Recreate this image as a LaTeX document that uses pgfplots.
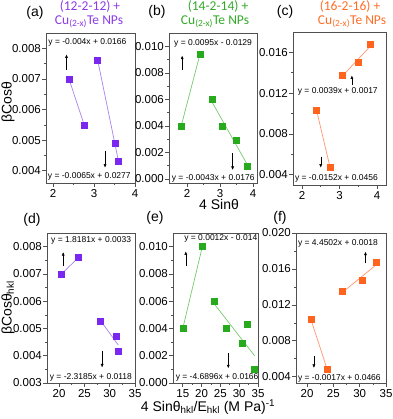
\documentclass[border=0pt]{standalone}
\usepackage{fontspec}
\setmainfont{Liberation Sans}
\newfontfamily\titlefont{Carlito}
\usepackage{pgfplots}
\pgfplotsset{compat=1.18}
\usetikzlibrary{arrows.meta}

\definecolor{cPur}{RGB}{122,40,240}
\definecolor{cPurT}{RGB}{140,60,230}
\definecolor{cPurL}{RGB}{170,130,235}
\definecolor{cGrn}{RGB}{40,170,30}
\definecolor{cGrnT}{RGB}{50,170,40}
\definecolor{cGrnL}{RGB}{120,200,110}
\definecolor{cOrg}{RGB}{255,100,30}
\definecolor{cOrgT}{RGB}{255,110,40}
\definecolor{cOrgL}{RGB}{255,150,110}
\definecolor{cFrame}{RGB}{80,80,80}

\pgfplotsset{
  panel/.style={scale only axis, anchor=south west, clip=false,
    axis line style={cFrame, line width=0.8pt},
    tick style={cFrame, line width=0.6pt},
    tick align=outside, xtick pos=left, ytick pos=left,
    major tick length=4pt, minor tick length=2.2pt,
    minor x tick num=1, minor y tick num=1,
    tick label style={font=\fontsize{11.5}{12}\selectfont},
    /pgf/number format/assume math mode=true,
    scaled y ticks=false,
    yticklabel style={/pgf/number format/fixed, /pgf/number format/fixed zerofill,
      /pgf/number format/precision=3, inner sep=1pt},
    xticklabel style={inner sep=2pt}},
  pts/.style={only marks, mark=square*, mark size=3pt, mark options={draw=#1, fill=#1}},
  fitl/.style={line width=0.7pt, #1, no marks},
}
\tikzset{eq/.style={font=\fontsize{8.5}{9}\selectfont, anchor=west, inner sep=0pt},
  arr/.style={-{Latex[length=3.5pt,width=3pt]}, line width=0.5pt, black},
  ttl/.style={font=\titlefont\fontsize{13.5}{15}\selectfont}}

\begin{document}
\begin{tikzpicture}[x=1pt,y=1pt]
\useasboundingbox (0,0) rectangle (392,419);

% (a)
\begin{axis}[panel, at={(46pt,236pt)}, width=89pt, height=150pt,
  xmin=1.83, xmax=4, ymin=0.0036, ymax=0.0085,
  xtick={2,3,4}, ytick={0.004,0.005,0.006,0.007,0.008}]
\addplot[fitl=cPurL] coordinates {(2.39,0.0070) (2.76,0.0055)};
\addplot[fitl=cPurL] coordinates {(3.08,0.00768) (3.59,0.00436)};
\addplot[pts=cPur] coordinates {(2.39,0.0070) (2.76,0.0055)};
\addplot[pts=cPur] coordinates {(3.08,0.0076) (3.51,0.0049) (3.59,0.0043)};
\node[eq] at (rel axis cs:0.025,0.94) {y = -0.004x + 0.0166};
\node[eq] at (rel axis cs:0.02,0.045) {y = -0.0065x + 0.0277};
\draw[arr] (axis cs:2.33,0.0073) -- (axis cs:2.33,0.0078);
\draw[arr] (axis cs:3.27,0.00466) -- (axis cs:3.27,0.0041);
\end{axis}

% (b)
\begin{axis}[panel, at={(169pt,236pt)}, width=88pt, height=150pt,
  xmin=1.45, xmax=4.12, ymin=-0.0003, ymax=0.011,
  xtick={2,3,4}, ytick={0,0.002,0.004,0.006,0.008,0.010}]
\addplot[fitl=cGrnL] coordinates {(1.82,0.0040) (2.39,0.0094)};
\addplot[fitl=cGrnL] coordinates {(2.75,0.00582) (3.82,0.00111)};
\addplot[pts=cGrn] coordinates {(1.82,0.0040) (2.39,0.0094)};
\addplot[pts=cGrn] coordinates {(2.75,0.0060) (3.07,0.0040) (3.49,0.0029) (3.82,0.0010)};
\node[eq] at (rel axis cs:0.057,0.933) {y = 0.0095x - 0.0129};
\node[eq] at (rel axis cs:0.03,0.033) {y = -0.0043x + 0.0176};
\draw[arr] (axis cs:1.85,0.0082) -- (axis cs:1.85,0.0093);
\draw[arr] (axis cs:3.38,0.00195) -- (axis cs:3.38,0.00068);
\end{axis}

% (c)
\begin{axis}[panel, at={(293pt,234pt)}, width=93pt, height=153pt,
  xmin=1.76, xmax=4.24, ymin=0.003, ymax=0.018,
  xtick={2,3,4}, ytick={0.004,0.008,0.012,0.016}]
\addplot[fitl=cOrgL] coordinates {(2.39,0.0103) (2.75,0.0047)};
\addplot[fitl=cOrgL] coordinates {(3.08,0.0137) (3.83,0.01664)};
\addplot[pts=cOrg] coordinates {(2.39,0.0103) (2.75,0.0047)};
\addplot[pts=cOrg] coordinates {(3.08,0.0138) (3.51,0.0150) (3.83,0.0168)};
\node[eq] at (rel axis cs:0.05,0.61) {y = 0.0039x + 0.0017};
\node[eq] at (rel axis cs:0.02,0.046) {y = -0.0152x + 0.0456};
\draw[arr] (axis cs:3.33,0.01276) -- (axis cs:3.33,0.01374);
\draw[arr] (axis cs:2.5,0.00577) -- (axis cs:2.5,0.0047);
\end{axis}

% (d)
\begin{axis}[panel, at={(47pt,36pt)}, width=88pt, height=150pt,
  xmin=17.6, xmax=35, ymin=0.003, ymax=0.0085,
  xtick={20,25,30,35}, ytick={0.003,0.004,0.005,0.006,0.007,0.008}]
\addplot[fitl=cPurL] coordinates {(20.5,0.0070) (23.8,0.0076)};
\addplot[fitl=cPurL] coordinates {(28.1,0.00531) (31.7,0.00439)};
\addplot[pts=cPur] coordinates {(20.5,0.0070) (23.8,0.0076)};
\addplot[pts=cPur] coordinates {(28.1,0.00528) (31.3,0.00473) (31.7,0.00418)};
\node[eq] at (rel axis cs:0.045,0.953) {y = 1.8181x + 0.0033};
\node[eq] at (rel axis cs:0.03,0.04) {y = -2.3185x + 0.0118};
\draw[arr] (axis cs:20.8,0.0073) -- (axis cs:20.8,0.0078);
\draw[arr] (axis cs:28.5,0.00419) -- (axis cs:28.5,0.00357);
\end{axis}

% (e)
\begin{axis}[panel, at={(173pt,36pt)}, width=85pt, height=150pt,
  xmin=12.4, xmax=35, ymin=0, ymax=0.011,
  xtick={15,20,25,30,35}, ytick={0,0.002,0.004,0.006,0.008,0.010}]
\addplot[fitl=cGrnL] coordinates {(15,0.0040) (20.2,0.0100)};
\addplot[fitl=cGrnL] coordinates {(22.8,0.0060) (34.1,0.0020)};
\addplot[pts=cGrn] coordinates {(15,0.0040) (20.2,0.0100)};
\addplot[pts=cGrn] coordinates {(23.4,0.0060) (26.5,0.0040) (30.8,0.0029) (32.2,0.0043) (33.9,0.0010)};
\node[eq] at (rel axis cs:0.13,0.967) {y = 0.0012x - 0.014};
\node[eq] at (rel axis cs:0.03,0.035) {y = -4.6896x + 0.0166};
\draw[arr] (axis cs:15.8,0.00855) -- (axis cs:15.8,0.00965);
\draw[arr] (axis cs:27.1,0.00218) -- (axis cs:27.1,0.00108);
\end{axis}

% (f)
\begin{axis}[panel, at={(296pt,36pt)}, width=90pt, height=150pt,
  xmin=17.9, xmax=35, ymin=0.0033, ymax=0.020,
  xtick={20,25,30,35}, ytick={0.004,0.008,0.012,0.016,0.020}]
\addplot[fitl=cOrgL] coordinates {(20.7,0.01043) (23.8,0.00486)};
\addplot[fitl=cOrgL] coordinates {(26.7,0.01338) (33.1,0.01644)};
\addplot[pts=cOrg] coordinates {(20.7,0.01043) (23.8,0.00486)};
\addplot[pts=cOrg] coordinates {(26.7,0.01357) (30.4,0.0147) (33.1,0.0167)};
\node[eq] at (rel axis cs:0.02,0.933) {y = 4.4502x + 0.0018};
\node[eq] at (rel axis cs:0.02,0.033) {y = -0.0017x + 0.0466};
\draw[arr] (axis cs:31.1,0.01663) -- (axis cs:31.1,0.01792);
\draw[arr] (axis cs:21.3,0.00626) -- (axis cs:21.3,0.00497);
\end{axis}

% titles and labels
\node[font=\fontsize{14}{16}\selectfont] at (35,406) {(a)};
\node[ttl, text=cPurT] at (90,412) {(12-2-12) +};
\node[ttl, text=cPurT] at (89,397) {Cu\textsubscript{(2-x)}Te NPs};
\node[font=\fontsize{14}{16}\selectfont] at (157,407) {(b)};
\node[ttl, text=cGrnT] at (218,412) {(14-2-14) +};
\node[ttl, text=cGrnT] at (215,397) {Cu\textsubscript{(2-x)}Te NPs};
\node[font=\fontsize{14}{16}\selectfont] at (285,407) {(c)};
\node[ttl, text=cOrgT] at (350,412) {(16-2-16) +};
\node[ttl, text=cOrgT] at (352,397) {Cu\textsubscript{(2-x)}Te NPs};
\node[font=\fontsize{14}{16}\selectfont] at (32,199) {(d)};
\node[font=\fontsize{14}{16}\selectfont] at (155,201) {(e)};
\node[font=\fontsize{14}{16}\selectfont] at (280,201) {(f)};
\node[font=\fontsize{14}{16}\selectfont, rotate=90] at (8,317) {βCosθ};
\node[font=\fontsize{14}{16}\selectfont, rotate=90] at (8,111) {βCosθ\textsubscript{hkl}};
\node[font=\fontsize{14}{16}\selectfont] at (219,214) {4 Sinθ};
\node[font=\fontsize{14}{16}\selectfont] at (208,12) {4 Sinθ\textsubscript{hkl}/E\textsubscript{hkl} (M Pa)\textsuperscript{-1}};
\end{tikzpicture}
\end{document}
